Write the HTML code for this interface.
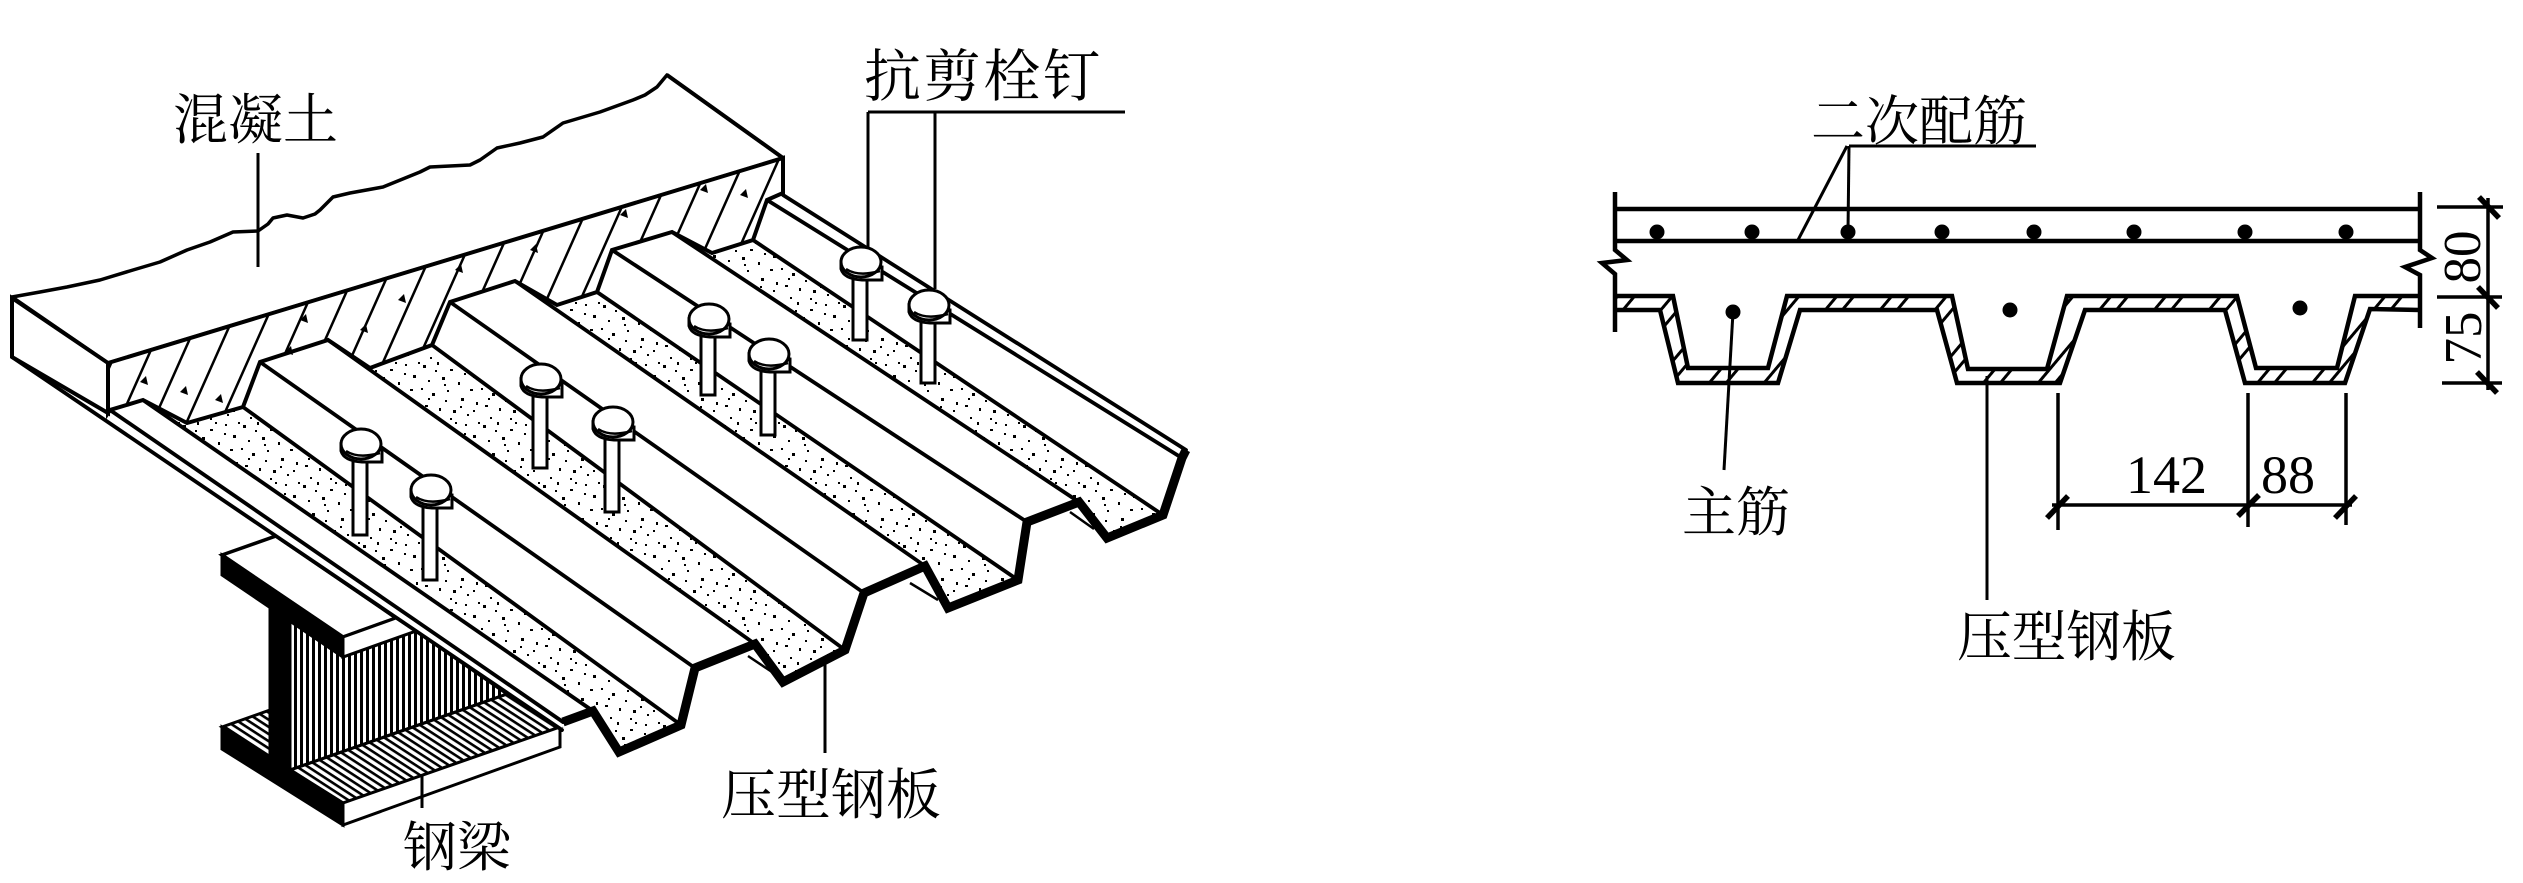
<!DOCTYPE html>
<html><head><meta charset="utf-8"><style>
html,body{margin:0;padding:0;background:#fff;}
svg{display:block;}
.cj{font-family:"Liberation Serif","Noto Serif CJK SC",serif;}
.num{font-family:"Liberation Serif",serif;}
</style></head><body>
<svg width="2523" height="883" viewBox="0 0 2523 883" xmlns="http://www.w3.org/2000/svg">
<defs>
<pattern id="st" width="60" height="60" patternUnits="userSpaceOnUse">
<g fill="#000">
<rect x="3" y="5" width="3" height="3"/><rect x="17" y="2" width="2" height="3"/><rect x="30" y="9" width="3" height="2"/>
<rect x="45" y="4" width="2" height="2"/><rect x="53" y="15" width="3" height="3"/><rect x="8" y="20" width="2" height="2"/>
<rect x="22" y="17" width="3" height="3"/><rect x="38" y="22" width="2" height="3"/><rect x="50" y="29" width="3" height="2"/>
<rect x="12" y="33" width="3" height="3"/><rect x="27" y="30" width="2" height="2"/><rect x="41" y="38" width="3" height="3"/>
<rect x="56" y="42" width="2" height="3"/><rect x="5" y="45" width="3" height="2"/><rect x="19" y="48" width="2" height="3"/>
<rect x="33" y="50" width="3" height="3"/><rect x="47" y="54" width="2" height="2"/><rect x="10" y="57" width="2" height="2"/>
<rect x="25" y="40" width="2" height="2"/><rect x="35" y="2" width="2" height="2"/><rect x="58" y="2" width="2" height="2"/>
<rect x="1" y="28" width="2" height="2"/><rect x="15" y="10" width="2" height="2"/><rect x="44" y="13" width="2" height="2"/>
<rect x="30" y="58" width="2" height="2"/><rect x="53" y="50" width="2" height="2"/><rect x="8" y="38" width="2" height="2"/>
<rect x="40" y="46" width="2" height="2"/><rect x="24" y="24" width="2" height="2"/>
</g>
</pattern>
<pattern id="vh" width="6" height="10" patternUnits="userSpaceOnUse"><rect x="0" y="0" width="3" height="10" fill="#000"/></pattern>
<pattern id="dg" width="10" height="6" patternUnits="userSpaceOnUse" patternTransform="rotate(33)"><rect x="0" y="0" width="10" height="2.6" fill="#000"/></pattern>
<pattern id="ch" width="31" height="31" patternUnits="userSpaceOnUse" patternTransform="rotate(24)"><rect x="0" y="0" width="2.5" height="31" fill="#000"/></pattern>
<pattern id="dh" width="42" height="42" patternUnits="userSpaceOnUse" patternTransform="rotate(40)"><rect x="0" y="0" width="3" height="42" fill="#000"/><rect x="13" y="0" width="3" height="42" fill="#000"/></pattern>
</defs>

<rect x="0" y="0" width="2523" height="883" fill="#fff"/>

<!-- ============ LEFT: STEEL BEAM ============ -->
<g stroke="#000" stroke-width="3" stroke-linejoin="miter">
<polygon points="222,727 270,710 270,757" fill="url(#dg)"/>
<polygon points="290,770 343,803 560,727 507,694" fill="url(#dg)"/>
<polygon points="343,803 560,727 560,747 343,825" fill="#fff"/>
<polygon points="222,727 343,803 343,825 222,749" fill="#000"/>
<polygon points="290,621 343,657 416,631 507,694 290,770" fill="url(#vh)"/>
<polygon points="270,607 290,621 290,770 270,757" fill="#000"/>
<polygon points="222,555 276,536 396,618 343,637" fill="#fff" stroke-width="3.5"/>
<polygon points="343,637 396,618 416,631 343,657" fill="#fff"/>
<polygon points="222,555 343,637 343,657 222,575" fill="#000"/>
</g>

<!-- ============ LEFT: DECK ============ -->
<polygon points="12,357 562,730 563,722 593,711 619,752 681,725 695,668 755,644 783,682 845,650 864,593 925,566 948,608 1018,580 1027,522 1079,502 1107,538 1163,515 1182,458 1186,450 783,195 108,413" fill="#fff"/>
<g fill="url(#st)">
<polygon points="143,400 593,711 619,752 681,725 243,407 187,423"/>
<polygon points="328,340 755,644 783,682 845,650 432,345 370,368"/>
<polygon points="515,281 925,566 948,608 1018,580 597,292 557,305"/>
<polygon points="672,232 1079,502 1107,538 1163,515 753,240 712,253"/>
</g>
<g stroke="#000" stroke-width="3.8" stroke-linecap="round">
<line x1="12" y1="357" x2="562" y2="730"/>
<line x1="110" y1="410" x2="563" y2="722"/>
<line x1="143" y1="400" x2="593" y2="711"/>
<line x1="243" y1="407" x2="681" y2="725"/>
<line x1="260" y1="362" x2="695" y2="668"/>
<line x1="328" y1="340" x2="755" y2="644"/>
<line x1="432" y1="345" x2="845" y2="650"/>
<line x1="450" y1="302" x2="864" y2="593"/>
<line x1="515" y1="281" x2="925" y2="566"/>
<line x1="597" y1="292" x2="1018" y2="580"/>
<line x1="612" y1="250" x2="1027" y2="522"/>
<line x1="672" y1="232" x2="1079" y2="502"/>
<line x1="753" y1="240" x2="1163" y2="515"/>
<line x1="767" y1="200" x2="1182" y2="458"/>
<line x1="783" y1="195" x2="1186" y2="450"/>
</g>
<g stroke="#000" stroke-width="2.5">
<line x1="748" y1="656" x2="772" y2="672"/>
<line x1="910" y1="583" x2="938" y2="600"/>
<line x1="1070" y1="512" x2="1094" y2="529"/>
</g>
<polyline points="563,722 593,711 619,752 681,725 695,668 755,644 783,682 845,650 864,593 925,566 948,608 1018,580 1027,522 1079,502 1107,538 1163,515 1182,458 1186,450" fill="none" stroke="#000" stroke-width="9" stroke-linejoin="miter" stroke-miterlimit="3"/>

<!-- ============ LEFT: STUDS ============ -->
<g stroke="#000" stroke-width="3" fill="#fff">
<g transform="translate(340,427)"><rect x="13" y="30" width="14" height="78"/><path d="M1,17 L1,24 Q4,34 22,35 L42,35 L42,22 Z"/><ellipse cx="21" cy="17" rx="20" ry="15"/><path d="M6,24 Q18,32 40,26" fill="none" stroke-width="2.5"/></g>
<g transform="translate(410,473)"><rect x="13" y="30" width="14" height="77"/><path d="M1,17 L1,24 Q4,34 22,35 L42,35 L42,22 Z"/><ellipse cx="21" cy="17" rx="20" ry="15"/><path d="M6,24 Q18,32 40,26" fill="none" stroke-width="2.5"/></g>
<g transform="translate(520,362)"><rect x="13" y="30" width="14" height="76"/><path d="M1,17 L1,24 Q4,34 22,35 L42,35 L42,22 Z"/><ellipse cx="21" cy="17" rx="20" ry="15"/><path d="M6,24 Q18,32 40,26" fill="none" stroke-width="2.5"/></g>
<g transform="translate(592,405)"><rect x="13" y="30" width="14" height="77"/><path d="M1,17 L1,24 Q4,34 22,35 L42,35 L42,22 Z"/><ellipse cx="21" cy="17" rx="20" ry="15"/><path d="M6,24 Q18,32 40,26" fill="none" stroke-width="2.5"/></g>
<g transform="translate(688,302)"><rect x="13" y="30" width="14" height="63"/><path d="M1,17 L1,24 Q4,34 22,35 L42,35 L42,22 Z"/><ellipse cx="21" cy="17" rx="20" ry="15"/><path d="M6,24 Q18,32 40,26" fill="none" stroke-width="2.5"/></g>
<g transform="translate(748,337)"><rect x="13" y="30" width="14" height="68"/><path d="M1,17 L1,24 Q4,34 22,35 L42,35 L42,22 Z"/><ellipse cx="21" cy="17" rx="20" ry="15"/><path d="M6,24 Q18,32 40,26" fill="none" stroke-width="2.5"/></g>
<g transform="translate(840,245)"><rect x="13" y="30" width="14" height="65"/><path d="M1,17 L1,24 Q4,34 22,35 L42,35 L42,22 Z"/><ellipse cx="21" cy="17" rx="20" ry="15"/><path d="M6,24 Q18,32 40,26" fill="none" stroke-width="2.5"/></g>
<g transform="translate(908,288)"><rect x="13" y="30" width="14" height="65"/><path d="M1,17 L1,24 Q4,34 22,35 L42,35 L42,22 Z"/><ellipse cx="21" cy="17" rx="20" ry="15"/><path d="M6,24 Q18,32 40,26" fill="none" stroke-width="2.5"/></g>
</g>

<!-- ============ LEFT: CONCRETE SLAB ============ -->
<path d="M12,297 L40,292 L67,287 L100,280 L133,270 L160,262 L187,250 L210,242 L233,232 L258,231 L268,224 L273,218 L287,215 L303,218 L315,214 L320,210 L333,197 L350,193 L383,187 L420,172 L430,167 L470,165 L480,160 L497,148 L520,143 L543,137 L563,123 L600,112 L633,100 L645,95 L657,87 L667,75 L783,158 L108,363 Z" fill="#fff" stroke="#000" stroke-width="3.5" stroke-linejoin="round"/>
<polygon points="12,298 108,363 108,413 12,357" fill="#fff" stroke="#000" stroke-width="4"/>
<polygon points="108,363 783,158 783,193 767,200 753,240 712,253 672,232 612,250 597,292 557,305 515,281 450,302 432,345 370,368 328,340 260,362 243,407 187,423 143,400 110,410 108,413" fill="#fff"/>
<polygon points="108,363 783,158 783,193 767,200 753,240 712,253 672,232 612,250 597,292 557,305 515,281 450,302 432,345 370,368 328,340 260,362 243,407 187,423 143,400 110,410 108,413" fill="url(#ch)" stroke="#000" stroke-width="4" stroke-linejoin="miter"/>
<g fill="#000">
<polygon points="140,382 146,376 148,385"/><polygon points="180,392 186,386 188,395"/>
<polygon points="285,352 291,346 293,355"/><polygon points="300,320 306,314 308,323"/>
<polygon points="398,300 404,294 406,303"/><polygon points="455,270 461,264 463,273"/>
<polygon points="530,250 536,244 538,253"/><polygon points="620,215 626,209 628,218"/>
<polygon points="700,190 706,184 708,193"/><polygon points="740,195 746,189 748,198"/>
<polygon points="215,400 221,394 223,403"/><polygon points="360,330 366,324 368,333"/>
</g>
<line x1="783" y1="158" x2="783" y2="193" stroke="#000" stroke-width="4"/>
<line x1="667" y1="75" x2="783" y2="158" stroke="#000" stroke-width="4"/>

<!-- ============ LEFT: LABELS ============ -->
<g stroke="#000" stroke-width="3">
<line x1="258" y1="153" x2="258" y2="267"/>
<line x1="868" y1="112" x2="1125" y2="112"/>
<line x1="868" y1="112" x2="868" y2="247"/>
<line x1="935" y1="112" x2="935" y2="289"/>
<line x1="825" y1="662" x2="825" y2="753"/>
<line x1="422" y1="774" x2="422" y2="808"/>
</g>
<g class="cj" fill="#000">
<text x="173" y="139" font-size="55">混凝土</text>
<text x="864" y="96" font-size="57" textLength="236" lengthAdjust="spacing">抗剪栓钉</text>
<text x="721" y="814" font-size="55" textLength="220" lengthAdjust="spacing">压型钢板</text>
<text x="403" y="866" font-size="54">钢梁</text>
</g>

<!-- ============ RIGHT: SECTION ============ -->
<g stroke="#000" stroke-width="4.5" fill="none">
<line x1="1615" y1="209" x2="2420" y2="209"/>
<line x1="1615" y1="241" x2="2420" y2="241"/>
<polyline points="1615,192 1615,250 1627,260 1602,263 1615,274 1615,332"/>
<polyline points="2420,192 2420,250 2432,258 2405,267 2420,275 2420,328"/>
</g>
<polygon points="1615,296 1673,296 1688,368 1768,368 1787,296 1952,296 1968,369 2047,369 2067,296 2237,296 2256,368 2337,368 2355,296 2420,296 2420,310 2370,309 2345,383 2245,383 2225,310 2085,310 2060,383 1957,383 1937,310 1800,310 1778,383 1678,383 1660,310 1615,310" fill="url(#dh)"/>
<g stroke="#000" stroke-width="4.5" fill="none" stroke-linejoin="miter">
<polyline points="1615,296 1673,296 1688,368 1768,368 1787,296 1952,296 1968,369 2047,369 2067,296 2237,296 2256,368 2337,368 2355,296 2420,296"/>
<polyline points="1615,310 1660,310 1678,383 1778,383 1800,310 1937,310 1957,383 2060,383 2085,310 2225,310 2245,383 2345,383 2370,309 2420,310"/>
</g>
<g fill="#000">
<circle cx="1657" cy="232" r="7.5"/><circle cx="1752" cy="232" r="7.5"/><circle cx="1848" cy="232" r="7.5"/>
<circle cx="1942" cy="232" r="7.5"/><circle cx="2034" cy="232" r="7.5"/><circle cx="2134" cy="232" r="7.5"/>
<circle cx="2245" cy="232" r="7.5"/><circle cx="2346" cy="232" r="7.5"/>
<circle cx="1733" cy="312" r="7.5"/><circle cx="2010" cy="310" r="7.5"/><circle cx="2300" cy="308" r="7.5"/>
</g>
<g stroke="#000" stroke-width="3">
<line x1="1849" y1="146" x2="2036" y2="146"/>
<line x1="1849" y1="146" x2="1848" y2="232"/>
<line x1="1847" y1="146" x2="1798" y2="240"/>
<line x1="1733" y1="312" x2="1724" y2="470"/>
<line x1="1987" y1="376" x2="1987" y2="600"/>
</g>
<!-- horizontal dimension -->
<g stroke="#000" stroke-width="3.5">
<line x1="2058" y1="393" x2="2058" y2="530"/>
<line x1="2248" y1="393" x2="2248" y2="527"/>
<line x1="2346" y1="393" x2="2346" y2="525"/>
<line x1="2052" y1="505" x2="2352" y2="505"/>
</g>
<g stroke="#000" stroke-width="5.5">
<line x1="2047" y1="518" x2="2068" y2="496"/>
<line x1="2238" y1="516" x2="2259" y2="495"/>
<line x1="2335" y1="518" x2="2356" y2="496"/>
</g>
<!-- vertical dimension -->
<g stroke="#000" stroke-width="3.5">
<line x1="2488" y1="198" x2="2488" y2="390"/>
<line x1="2437" y1="207" x2="2503" y2="207"/>
<line x1="2437" y1="297" x2="2502" y2="297"/>
<line x1="2442" y1="383" x2="2502" y2="383"/>
</g>
<g stroke="#000" stroke-width="5.5">
<line x1="2479" y1="197" x2="2499" y2="218"/>
<line x1="2478" y1="287" x2="2498" y2="308"/>
<line x1="2477" y1="372" x2="2497" y2="393"/>
</g>
<g class="num" fill="#000" font-size="54">
<text x="2126" y="493">142</text>
<text x="2261" y="493">88</text>
<text transform="translate(2462,257) rotate(-90)" x="0" y="18" text-anchor="middle" font-size="53">80</text>
<text transform="translate(2463,338) rotate(-90)" x="0" y="18" text-anchor="middle" font-size="53">75</text>
</g>
<g class="cj" fill="#000">
<text x="1811" y="140" font-size="54" textLength="216" lengthAdjust="spacing">二次配筋</text>
<text x="1682" y="531" font-size="54">主筋</text>
<text x="1957" y="656" font-size="55" textLength="219" lengthAdjust="spacing">压型钢板</text>
</g>
</svg>
</body></html>
